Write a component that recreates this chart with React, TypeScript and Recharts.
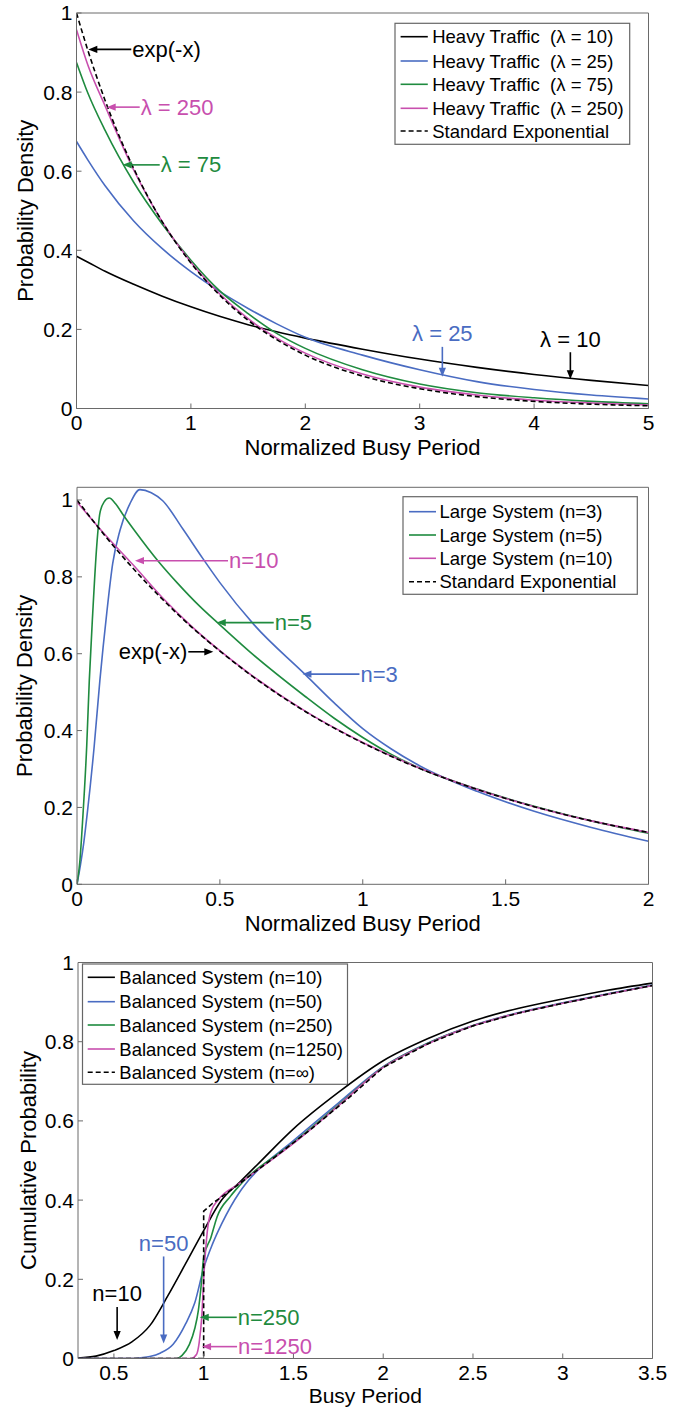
import React from 'react';
import { LineChart, Line, XAxis, YAxis, ReferenceDot, Customized } from 'recharts';

const FONT = '"Liberation Sans", Arial, Helvetica, sans-serif';
const FRAME = '#6a6a6a';
const BLACK = '#000000';
const BLUE = '#4a6cc2';
const GREEN = '#1f8b3f';
const PINK = '#c84fae';

// ---- top panel: heavy traffic densities ----
const htX = [0, 0.1, 0.25, 0.5, 0.75, 1, 1.25, 1.5, 1.75, 2, 2.5, 3, 3.5, 4, 4.5, 5];
const htL10 = [0.385, 0.37, 0.347, 0.314, 0.284, 0.257, 0.233, 0.212, 0.194, 0.178, 0.15, 0.125, 0.104, 0.086, 0.071, 0.058];
const htL25 = [0.675, 0.628, 0.563, 0.474, 0.404, 0.346, 0.296, 0.253, 0.214, 0.18, 0.135, 0.098, 0.068, 0.048, 0.034, 0.024];
const htL75 = [0.875, 0.797, 0.703, 0.572, 0.466, 0.375, 0.298, 0.24, 0.19, 0.152, 0.098, 0.062, 0.04, 0.027, 0.018, 0.012];
const htL250 = [0.958, 0.868, 0.765, 0.603, 0.472, 0.37, 0.29, 0.227, 0.178, 0.14, 0.087, 0.054, 0.034, 0.021, 0.014, 0.009];
const htExp = [1, 0.905, 0.779, 0.607, 0.472, 0.368, 0.287, 0.223, 0.174, 0.135, 0.082, 0.05, 0.03, 0.018, 0.011, 0.007];
const htXTicks = [0, 1, 2, 3, 4, 5];
const htLabels = [
  'Heavy Traffic\u00a0 (\u03bb = 10)',
  'Heavy Traffic\u00a0 (\u03bb = 25)',
  'Heavy Traffic\u00a0 (\u03bb = 75)',
  'Heavy Traffic\u00a0 (\u03bb = 250)',
  'Standard Exponential',
];

// ---- middle panel: large system densities ----
const lsN3X = [0, 0.012, 0.024, 0.036, 0.06, 0.08, 0.104, 0.125, 0.15, 0.185, 0.22, 0.26, 0.3, 0.37, 0.44, 0.5, 0.62, 0.8, 0.9, 1, 1.1, 1.2, 1.4, 1.6, 1.8, 2];
const lsN3Y = [0, 0.05, 0.11, 0.185, 0.358, 0.53, 0.705, 0.835, 0.92, 0.99, 1.027, 1.019, 0.998, 0.925, 0.848, 0.785, 0.675, 0.545, 0.472, 0.405, 0.352, 0.308, 0.242, 0.19, 0.148, 0.112];
const lsN5X = [0, 0.01, 0.02, 0.034, 0.043, 0.055, 0.069, 0.08, 0.095, 0.113, 0.135, 0.16, 0.2, 0.285, 0.35, 0.43, 0.5, 0.6, 0.8, 0.9, 1, 1.1, 1.2, 1.4, 1.6, 1.8, 2];
const lsN5Y = [0, 0.06, 0.17, 0.36, 0.53, 0.705, 0.88, 0.965, 0.995, 1.005, 0.99, 0.963, 0.922, 0.84, 0.785, 0.723, 0.675, 0.608, 0.488, 0.432, 0.382, 0.338, 0.302, 0.248, 0.203, 0.165, 0.133];
const lsN10X = [0, 0.1, 0.2, 0.3, 0.4, 0.5, 0.6, 0.8, 1, 1.2, 1.4, 1.6, 1.8, 2];
const lsN10Y = [0.995, 0.908, 0.828, 0.745, 0.672, 0.608, 0.55, 0.45, 0.369, 0.302, 0.247, 0.202, 0.165, 0.135];
const lsExpY = [1, 0.905, 0.819, 0.741, 0.67, 0.607, 0.549, 0.449, 0.368, 0.301, 0.247, 0.202, 0.165, 0.135];
const lsXTicks = [0, 0.5, 1, 1.5, 2];
const lsLabels = ['Large System (n=3)', 'Large System (n=5)', 'Large System (n=10)', 'Standard Exponential'];

// ---- bottom panel: balanced system CDFs ----
const bsN10X = [0.3, 0.4, 0.5, 0.6, 0.7, 0.8, 0.9, 1, 1.1, 1.2, 1.3, 1.5, 1.75, 2, 2.25, 2.5, 2.75, 3, 3.25, 3.5];
const bsN10Y = [0.001, 0.006, 0.02, 0.042, 0.083, 0.158, 0.24, 0.323, 0.4, 0.445, 0.49, 0.58, 0.672, 0.752, 0.808, 0.852, 0.884, 0.908, 0.93, 0.948];
const bsN50X = [0.3, 0.6, 0.65, 0.7, 0.76, 0.83, 0.9, 0.95, 1, 1.05, 1.1, 1.2, 1.25, 1.5, 1.75, 2, 2.25, 2.5, 2.75, 3, 3.25, 3.5];
const bsN50Y = [0, 0, 0.002, 0.005, 0.014, 0.036, 0.088, 0.14, 0.228, 0.29, 0.34, 0.42, 0.45, 0.55, 0.645, 0.737, 0.797, 0.841, 0.873, 0.898, 0.921, 0.943];
const bsN250X = [0.3, 0.85, 0.88, 0.92, 0.95, 0.97, 0.985, 1, 1.04, 1.075, 1.15, 1.2, 1.5, 1.75, 2, 2.25, 2.5, 2.75, 3, 3.25, 3.5];
const bsN250Y = [0, 0, 0.008, 0.035, 0.075, 0.12, 0.18, 0.255, 0.305, 0.358, 0.41, 0.437, 0.545, 0.64, 0.736, 0.796, 0.84, 0.872, 0.897, 0.92, 0.942];
const bsN1250X = [0.3, 0.93, 0.96, 0.975, 0.99, 1, 1.02, 1.04, 1.08, 1.2, 1.5, 1.75, 2, 2.25, 2.5, 2.75, 3, 3.25, 3.5];
const bsN1250Y = [0, 0, 0.01, 0.04, 0.11, 0.2, 0.32, 0.37, 0.4, 0.442, 0.543, 0.638, 0.735, 0.795, 0.84, 0.872, 0.897, 0.92, 0.942];
const bsInfX = [0.3, 1, 1, 1.05, 1.1, 1.2, 1.4, 1.6, 1.8, 2, 2.25, 2.5, 2.75, 3, 3.25, 3.5];
const bsInfY = [0, 0, 0.372, 0.392, 0.408, 0.442, 0.51, 0.58, 0.655, 0.735, 0.795, 0.84, 0.872, 0.897, 0.92, 0.942];
const bsXTicks = [0.5, 1, 1.5, 2, 2.5, 3, 3.5];
const bsLabels = [
  'Balanced System (n=10)',
  'Balanced System (n=50)',
  'Balanced System (n=250)',
  'Balanced System (n=1250)',
  'Balanced System (n=\u221e)',
];

const yTicks = [0, 0.2, 0.4, 0.6, 0.8, 1];

type Series = { xs: number[]; ys: number[]; color: string; dashed?: boolean; linear?: boolean };
type Note = { x: number; y: number; text: string; color: string; dir: 'left' | 'right' | 'down'; len: number };
type LegendBox = { x: number; y: number; w: number; h: number; rows: number[]; lx1: number; lx2: number; tx: number };

const zip = (xs: number[], ys: number[]) => xs.map((x, i) => ({ x, y: ys[i] }));

function Arrow({ cx, cy, note }: { cx: number; cy: number; note: Note }) {
  const head = 9;
  const half = 3.6;
  const c = note.color;
  const txt = { fontFamily: FONT, fontSize: 22, fill: c };
  if (note.dir === 'down') {
    return (
      <g>
        <line x1={cx} y1={cy - note.len} x2={cx} y2={cy - head + 1} stroke={c} strokeWidth={1.6} />
        <polygon points={`${cx},${cy} ${cx - half},${cy - head} ${cx + half},${cy - head}`} fill={c} />
        <text x={cx} y={cy - note.len - 13} textAnchor="middle" dominantBaseline="central" style={txt}>
          {note.text}
        </text>
      </g>
    );
  }
  const s = note.dir === 'left' ? 1 : -1;
  const tail = cx + s * note.len;
  return (
    <g>
      <line x1={cx + s * (head - 1)} y1={cy} x2={tail} y2={cy} stroke={c} strokeWidth={1.6} />
      <polygon points={`${cx},${cy} ${cx + s * head},${cy - half} ${cx + s * head},${cy + half}`} fill={c} />
      <text
        x={tail + s * 1}
        y={cy}
        textAnchor={s > 0 ? 'start' : 'end'}
        dominantBaseline="central"
        style={txt}
      >
        {note.text}
      </text>
    </g>
  );
}

function Panel(props: {
  h: number;
  plot: { l: number; r: number; t: number; b: number };
  xDomain: [number, number];
  yDomain: [number, number];
  xTicks: number[];
  xLabel: string;
  xLabelDy: number;
  xLabelSize: number;
  yLabel: string;
  yLabelX: number;
  series: Series[];
  labels: string[];
  legend: LegendBox;
  notes: Note[];
}) {
  const { h, plot, xDomain, yDomain, xTicks, xLabel, xLabelDy, xLabelSize, yLabel, yLabelX, series, labels, legend, notes } = props;
  const W = 687;
  const YW = 60;
  const XH = 50;
  const margin = { left: plot.l - YW, right: W - plot.r - 1, top: plot.t - 1, bottom: h - plot.b - XH };
  const tickStyle = { fill: '#000', fontSize: 21, fontFamily: FONT };

  const overlay = () => (
    <g>
      <text
        x={(plot.l + plot.r) / 2}
        y={plot.b + xLabelDy}
        textAnchor="middle"
        dominantBaseline="central"
        style={{ fontFamily: FONT, fontSize: xLabelSize, fill: '#000' }}
      >
        {xLabel}
      </text>
      <text
        x={yLabelX}
        y={(plot.t + plot.b) / 2}
        textAnchor="middle"
        dominantBaseline="central"
        transform={`rotate(-90 ${yLabelX} ${(plot.t + plot.b) / 2})`}
        style={{ fontFamily: FONT, fontSize: 22, fill: '#000' }}
      >
        {yLabel}
      </text>
      <rect x={legend.x} y={legend.y} width={legend.w} height={legend.h} fill="#fff" stroke="#666" strokeWidth={1.2} />
      {labels.map((lab, i) => (
        <g key={lab}>
          <line
            x1={legend.lx1}
            x2={legend.lx2}
            y1={legend.rows[i]}
            y2={legend.rows[i]}
            stroke={series[i].color}
            strokeWidth={1.6}
            strokeDasharray={series[i].dashed ? '5 3' : undefined}
          />
          <text
            x={legend.tx}
            y={legend.rows[i]}
            dominantBaseline="central"
            style={{ fontFamily: FONT, fontSize: 18.5, fill: '#000' }}
          >
            {lab}
          </text>
        </g>
      ))}
    </g>
  );

  return (
    <LineChart width={W} height={h} margin={margin}>
      <XAxis
        xAxisId={0}
        dataKey="x"
        type="number"
        domain={xDomain}
        ticks={xTicks}
        allowDataOverflow
        height={XH}
        stroke={FRAME}
        tickSize={-5}
        tickMargin={12}
        tick={tickStyle}
      />
      <XAxis
        xAxisId="top"
        orientation="top"
        dataKey="x"
        type="number"
        domain={xDomain}
        ticks={xTicks}
        allowDataOverflow
        height={1}
        stroke={FRAME}
        tickSize={-5}
        tick={false}
      />
      <YAxis
        yAxisId={0}
        type="number"
        domain={yDomain}
        ticks={yTicks}
        allowDataOverflow
        width={YW}
        stroke={FRAME}
        tickSize={-5}
        tickMargin={9}
        tick={tickStyle}
      />
      <YAxis
        yAxisId="right"
        orientation="right"
        type="number"
        domain={yDomain}
        ticks={yTicks}
        allowDataOverflow
        width={1}
        stroke={FRAME}
        tickSize={-5}
        tick={false}
      />
      {series.map((s, i) => (
        <Line
          key={i}
          data={zip(s.xs, s.ys)}
          dataKey="y"
          type={s.linear ? 'linear' : 'monotone'}
          stroke={s.color}
          strokeWidth={1.6}
          strokeDasharray={s.dashed ? '5 3' : undefined}
          dot={false}
          activeDot={false}
          isAnimationActive={false}
        />
      ))}
      {notes.map((n, i) => (
        <ReferenceDot
          key={'n' + i}
          x={n.x}
          y={n.y}
          r={0}
          ifOverflow="visible"
          shape={(p: any) => <Arrow cx={p.cx} cy={p.cy} note={n} />}
        />
      ))}
      <Customized component={overlay} />
    </LineChart>
  );
}

export default function App() {
  const htSeries: Series[] = [
    { xs: htX, ys: htL10, color: BLACK },
    { xs: htX, ys: htL25, color: BLUE },
    { xs: htX, ys: htL75, color: GREEN },
    { xs: htX, ys: htL250, color: PINK },
    { xs: htX, ys: htExp, color: BLACK, dashed: true },
  ];
  const lsSeries: Series[] = [
    { xs: lsN3X, ys: lsN3Y, color: BLUE },
    { xs: lsN5X, ys: lsN5Y, color: GREEN },
    { xs: lsN10X, ys: lsN10Y, color: PINK },
    { xs: lsN10X, ys: lsExpY, color: BLACK, dashed: true },
  ];
  const bsSeries: Series[] = [
    { xs: bsN10X, ys: bsN10Y, color: BLACK },
    { xs: bsN50X, ys: bsN50Y, color: BLUE },
    { xs: bsN250X, ys: bsN250Y, color: GREEN },
    { xs: bsN1250X, ys: bsN1250Y, color: PINK },
    { xs: bsInfX, ys: bsInfY, color: BLACK, dashed: true, linear: true },
  ];

  return (
    <div style={{ position: 'absolute', left: 0, top: 0, width: 687, background: '#fff' }}>
      <Panel
        h={470}
        plot={{ l: 76.5, r: 648.5, t: 13, b: 408.5 }}
        xDomain={[0, 5]}
        yDomain={[0, 1]}
        xTicks={htXTicks}
        xLabel="Normalized Busy Period"
        xLabelDy={39}
        xLabelSize={22}
        yLabel="Probability Density"
        yLabelX={25}
        series={htSeries}
        labels={htLabels}
        legend={{ x: 395, y: 23.3, w: 234.7, h: 121, rows: [36.7, 61, 84.3, 108.3, 131], lx1: 400.6, lx2: 427.8, tx: 432.2 }}
        notes={[
          { x: 0.103, y: 0.908, text: 'exp(-x)', color: BLACK, dir: 'left', len: 43 },
          { x: 0.264, y: 0.762, text: '\u03bb = 250', color: PINK, dir: 'left', len: 33 },
          { x: 0.404, y: 0.616, text: '\u03bb = 75', color: GREEN, dir: 'left', len: 37 },
          { x: 3.198, y: 0.08, text: '\u03bb = 25', color: BLUE, dir: 'down', len: 30 },
          { x: 4.317, y: 0.074, text: '\u03bb = 10', color: BLACK, dir: 'down', len: 27 },
        ]}
      />
      <Panel
        h={470}
        plot={{ l: 77, r: 648.5, t: 17.3, b: 414.3 }}
        xDomain={[0, 2]}
        yDomain={[0, 1.033]}
        xTicks={lsXTicks}
        xLabel="Normalized Busy Period"
        xLabelDy={39}
        xLabelSize={22}
        yLabel="Probability Density"
        yLabelX={25}
        series={lsSeries}
        labels={lsLabels}
        legend={{ x: 403, y: 26.7, w: 234.3, h: 97.6, rows: [41.7, 65, 88.3, 111.7], lx1: 409, lx2: 436, tx: 439.5 }}
        notes={[
          { x: 0.203, y: 0.842, text: 'n=10', color: PINK, dir: 'left', len: 93 },
          { x: 0.489, y: 0.681, text: 'n=5', color: GREEN, dir: 'left', len: 57 },
          { x: 0.477, y: 0.605, text: 'exp(-x)', color: BLACK, dir: 'right', len: 25 },
          { x: 0.789, y: 0.547, text: 'n=3', color: BLUE, dir: 'left', len: 57 },
        ]}
      />
      <Panel
        h={469}
        plot={{ l: 78, r: 652.5, t: 22.5, b: 418.5 }}
        xDomain={[0.3, 3.5]}
        yDomain={[0, 1]}
        xTicks={bsXTicks}
        xLabel="Busy Period"
        xLabelDy={37}
        xLabelSize={21}
        yLabel="Cumulative Probability"
        yLabelX={28.5}
        series={bsSeries}
        labels={bsLabels}
        legend={{ x: 82.5, y: 24, w: 265, h: 120.3, rows: [37.3, 61.7, 85, 109, 132.3], lx1: 87.7, lx2: 114.9, tx: 119.3 }}
        notes={[
          { x: 0.518, y: 0.047, text: 'n=10', color: BLACK, dir: 'down', len: 33 },
          { x: 0.777, y: 0.038, text: 'n=50', color: BLUE, dir: 'down', len: 87 },
          { x: 0.978, y: 0.104, text: 'n=250', color: GREEN, dir: 'left', len: 37 },
          { x: 0.991, y: 0.03, text: 'n=1250', color: PINK, dir: 'left', len: 35 },
        ]}
      />
    </div>
  );
}
